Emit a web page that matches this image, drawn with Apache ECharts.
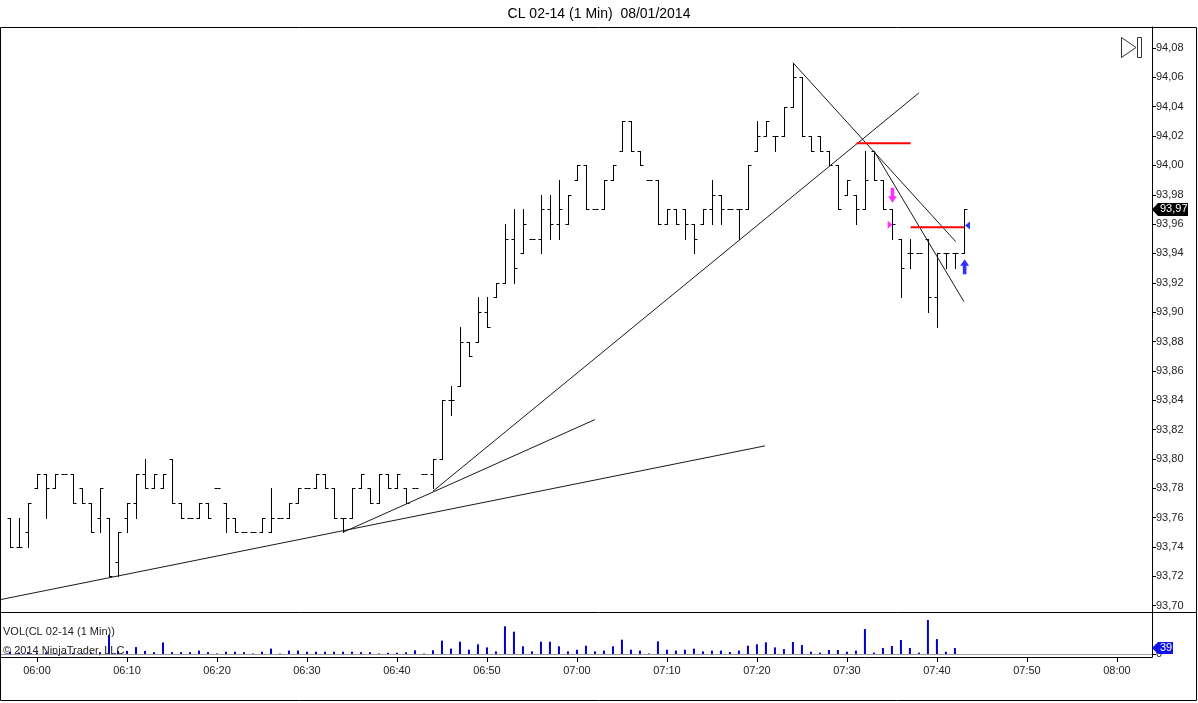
<!DOCTYPE html>
<html><head><meta charset="utf-8">
<script src="https://cdn.jsdelivr.net/npm/echarts@6/dist/echarts.min.js"></script>
<style>html,body{margin:0;padding:0;background:#fff}#c{width:1198px;height:703px}</style>
</head><body><div id="c"></div>
<script>
// ---- data (minute bars, CL 02-14, 1 Min) ----
const times = ["05:57","05:58","05:59","06:00","06:01","06:02","06:03","06:04","06:05","06:06","06:07","06:08","06:09",
"06:10","06:11","06:12","06:13","06:14","06:15","06:16","06:17","06:18","06:19","06:20","06:21","06:22","06:23","06:24","06:25","06:26","06:27","06:28","06:29",
"06:30","06:31","06:32","06:33","06:34","06:35","06:36","06:37","06:38","06:39","06:40","06:41","06:42","06:43","06:44","06:45","06:46","06:47","06:48","06:49",
"06:50","06:51","06:52","06:53","06:54","06:55","06:56","06:57","06:58","06:59","07:00","07:01","07:02","07:03","07:04","07:05","07:06","07:07","07:08","07:09",
"07:10","07:11","07:12","07:13","07:14","07:15","07:16","07:17","07:18","07:19","07:20","07:21","07:22","07:23","07:24","07:25","07:26","07:27","07:28","07:29",
"07:30","07:31","07:32","07:33","07:34","07:35","07:36","07:37","07:38","07:39","07:40","07:41","07:42","07:43"];
const opens = [93.76,93.74,93.75,93.78,93.79,93.78,93.79,93.79,93.78,93.77,93.76,93.76,93.73,
93.76,93.77,93.79,93.78,93.78,93.80,93.77,93.76,93.76,93.77,93.78,93.77,93.76,93.75,93.75,93.75,93.75,93.76,93.76,93.77,
93.78,93.78,93.79,93.78,93.76,93.76,93.78,93.78,93.77,93.79,93.78,93.78,93.78,93.79,93.79,93.80,93.84,93.85,93.88,93.88,
93.90,93.91,93.92,93.95,93.94,93.95,93.95,93.97,93.96,93.96,93.99,94.00,93.97,93.97,93.99,94.01,94.03,94.01,93.99,93.99,
93.96,93.97,93.97,93.96,93.96,93.97,93.98,93.97,93.97,93.97,94.01,94.02,94.02,94.02,94.04,94.06,94.02,94.02,94.01,94.00,
93.98,93.98,93.97,94.01,93.99,93.97,93.95,93.94,93.94,93.95,93.91,93.94,93.94,93.94];
const highs = [93.76,93.76,93.77,93.79,93.79,93.79,93.79,93.79,93.78,93.77,93.78,93.76,93.75,
93.77,93.79,93.80,93.79,93.79,93.80,93.77,93.76,93.77,93.77,93.78,93.77,93.76,93.75,93.75,93.76,93.78,93.76,93.77,93.78,
93.78,93.79,93.79,93.78,93.76,93.78,93.79,93.78,93.79,93.79,93.79,93.78,93.78,93.79,93.80,93.84,93.85,93.89,93.88,93.91,
93.91,93.92,93.96,93.97,93.97,93.95,93.98,93.98,93.99,93.98,94.00,94.00,93.97,93.99,94.00,94.03,94.03,94.01,93.99,93.99,
93.97,93.97,93.97,93.96,93.97,93.99,93.98,93.97,93.97,94.00,94.03,94.03,94.02,94.04,94.07,94.06,94.02,94.02,94.01,94.00,
93.99,93.98,94.01,94.01,93.99,93.97,93.95,93.95,93.94,93.95,93.94,93.94,93.94,93.97];
const lows = [93.74,93.74,93.74,93.78,93.76,93.78,93.79,93.77,93.77,93.75,93.75,93.72,93.72,
93.75,93.76,93.78,93.78,93.78,93.77,93.76,93.76,93.76,93.76,93.78,93.75,93.75,93.75,93.75,93.75,93.75,93.76,93.76,93.77,
93.78,93.78,93.78,93.76,93.75,93.76,93.78,93.77,93.77,93.78,93.78,93.77,93.78,93.79,93.78,93.80,93.83,93.85,93.87,93.88,
93.89,93.91,93.92,93.92,93.94,93.95,93.94,93.95,93.95,93.96,93.99,93.97,93.97,93.97,93.99,94.01,94.01,94.00,93.99,93.96,
93.96,93.96,93.95,93.94,93.96,93.96,93.96,93.97,93.95,93.97,94.01,94.02,94.01,94.02,94.04,94.02,94.01,94.01,94.00,93.97,
93.98,93.96,93.97,93.99,93.97,93.95,93.91,93.93,93.94,93.90,93.89,93.93,93.93,93.94];
const closes = [93.74,93.74,93.77,93.79,93.78,93.79,93.79,93.77,93.77,93.75,93.78,93.72,93.75,
93.77,93.79,93.78,93.79,93.79,93.77,93.76,93.76,93.77,93.76,93.78,93.76,93.75,93.75,93.75,93.76,93.76,93.76,93.77,93.78,
93.78,93.79,93.78,93.76,93.76,93.78,93.79,93.77,93.79,93.78,93.79,93.77,93.78,93.79,93.80,93.84,93.84,93.88,93.87,93.90,
93.89,93.92,93.95,93.93,93.96,93.95,93.97,93.96,93.97,93.98,94.00,93.97,93.97,93.99,94.00,94.03,94.01,94.00,93.99,93.96,
93.97,93.96,93.96,93.95,93.97,93.98,93.97,93.97,93.97,94.00,94.02,94.03,94.02,94.04,94.06,94.02,94.01,94.01,94.00,93.97,
93.99,93.97,93.99,93.99,93.97,93.96,93.93,93.94,93.94,93.91,93.94,93.94,93.94,93.97];
const volumes = [15,10,12,8,10,6,5,8,6,10,12,125,20,
20,45,20,12,75,12,12,12,22,12,3,15,15,12,3,15,35,3,22,22,
15,15,15,15,15,15,12,12,3,8,8,11,24,3,24,87,35,80,28,63,
43,17,180,145,50,17,80,80,50,17,28,54,17,22,50,93,28,22,3,82,
28,22,28,35,17,22,22,13,22,54,63,76,43,32,78,58,15,9,26,26,
15,22,162,9,39,52,91,39,9,221,97,15,39,null];
const priceTicks = [93.70,93.72,93.74,93.76,93.78,93.80,93.82,93.84,93.86,93.88,93.90,93.92,93.94,93.96,93.98,94.00,94.02,94.04,94.06,94.08];
const timeTicks = ["06:00","06:10","06:20","06:30","06:40","06:50","07:00","07:10","07:20","07:30","07:40","07:50","08:00"];
// drawn objects: [time, price] endpoints
const trendLong   = [["05:55.9",93.7041],["07:20.9",93.8089]];
const trendMedium = [["06:34",93.75],["07:02",93.8268]];
const trendSteep  = [["06:44",93.778],["07:38",94.0494]];
const trendDownA  = [["07:24",94.07],["07:42.1",93.948]];
const trendDownB  = [["07:33",94.01],["07:43",93.9072]];
const redLine1    = [["07:31.07",94.0151],["07:37.08",94.0151]];
const redLine2    = [["07:37.08",93.9579],["07:43",93.9579]];
const magentaDown = ["07:35.06",93.9796];
const magentaTri  = ["07:34.8",93.9595];
const blueTri     = ["07:43.4",93.959];
const blueUp      = ["07:43.08",93.931];

// ---- helpers ----
function toMin(t){ const p=t.split(':'); return (+p[0])*60 + parseFloat(p[1]) - 360; } // minutes since 06:00
function fmtTime(m){ const t=Math.round(m)+360; const h=Math.floor(t/60), mm=t%60; return (h<10?'0':'')+h+':'+(mm<10?'0':'')+mm; }
function fmtPrice(v){ return v.toFixed(2).replace('.',','); }
const pts = arr => arr.map(p=>[toMin(p[0]),p[1]]);

const FONT = '"Liberation Sans", Arial, sans-serif';
const ohlcData = times.map((t,i)=>[toMin(t),opens[i],highs[i],lows[i],closes[i]]);
const volData = times.map((t,i)=>[toMin(t),volumes[i]]);
const X_MIN = -4.0, X_MAX = 123.9;

const chart = echarts.init(document.getElementById('c'), null, {renderer:'canvas'});

function lineSeries(data, color, width){
  return {type:'line', xAxisIndex:0, yAxisIndex:0, data:pts(data), symbol:'none', silent:true,
    lineStyle:{color:color, width:width}, z:3, animation:false};
}
function markSeries(p, path, size, color){
  return {type:'scatter', xAxisIndex:0, yAxisIndex:0, data:[[toMin(p[0]),p[1]]], symbol:path,
    symbolSize:size, itemStyle:{color:color}, silent:true, z:5, animation:false};
}

chart.setOption({
  animation:false,
  backgroundColor:'#fff',
  title:{text:'CL 02-14 (1 Min)  08/01/2014', left:'center', top:2,
    textStyle:{fontSize:14, fontWeight:'normal', color:'#000', fontFamily:FONT}},
  grid:[
    {left:1, right:46, top:27, height:585},
    {left:1, right:46, top:613, height:44}
  ],
  xAxis:[
    {type:'value', gridIndex:0, min:X_MIN, max:X_MAX, show:false, axisLine:{onZero:false}},
    {type:'value', gridIndex:1, min:X_MIN, max:X_MAX, position:'bottom',
      axisLine:{show:true, onZero:false, lineStyle:{color:'#000', width:1}},
      axisTick:{show:true, inside:false, length:5, lineStyle:{color:'#000'}, customValues:timeTicks.map(toMin)},
      axisLabel:{show:true, margin:8, fontSize:11, color:'#222', fontFamily:FONT,
        customValues:timeTicks.map(toMin), formatter:v=>fmtTime(v)},
      splitLine:{show:false}}
  ],
  yAxis:[
    {type:'value', gridIndex:0, position:'right', min:93.6957, max:94.0943,
      axisLine:{show:true, onZero:false, lineStyle:{color:'#000'}},
      axisTick:{show:true, inside:false, length:4, lineStyle:{color:'#000'}, customValues:priceTicks},
      axisLabel:{show:true, margin:4, fontSize:11, color:'#222', fontFamily:FONT,
        customValues:priceTicks, formatter:v=>fmtPrice(v)},
      splitLine:{show:false}},
    {type:'value', gridIndex:1, position:'right', min:-19.5, max:266.5,
      axisLine:{show:true, onZero:false, lineStyle:{color:'#000'}},
      axisTick:{show:true, inside:false, length:4, lineStyle:{color:'#000'}, customValues:[0]},
      axisLabel:{show:true, margin:4, fontSize:11, color:'#222', fontFamily:FONT, customValues:[0]},
      splitLine:{show:false}}
  ],
  series:[
    {type:'custom', xAxisIndex:0, yAxisIndex:0, data:ohlcData, encode:{x:0, y:[1,2,3,4]}, z:2, silent:true,
      renderItem:function(params, api){
        const x=api.value(0);
        const pH=api.coord([x,api.value(2)]), pL=api.coord([x,api.value(3)]);
        const pO=api.coord([x,api.value(1)]), pC=api.coord([x,api.value(4)]);
        const cx=Math.round(pH[0])+0.5;
        let yH=Math.round(pH[1]), yL=Math.round(pL[1]);
        const yO=Math.round(pO[1])+0.5, yC=Math.round(pC[1])+0.5;
        const st={stroke:'#000', lineWidth:1};
        const ch=[
          {type:'line', shape:{x1:cx-3, y1:yO, x2:cx, y2:yO}, style:st},
          {type:'line', shape:{x1:cx, y1:yC, x2:cx+3, y2:yC}, style:st}
        ];
        if (yL-yH>=1) ch.push({type:'line', shape:{x1:cx, y1:yH, x2:cx, y2:yL+1}, style:st});
        return {type:'group', children:ch};
      }},
    {type:'bar', xAxisIndex:1, yAxisIndex:1, data:volData, barWidth:2, itemStyle:{color:'#0000c8'}, silent:true, z:2,
      markLine:{silent:true, symbol:'none', label:{show:false}, lineStyle:{color:'#a0a0a0', width:1, type:'solid'},
        data:[{yAxis:0}]}},
    lineSeries(trendLong,'#1a1a1a',1),
    lineSeries(trendMedium,'#1a1a1a',1),
    lineSeries(trendSteep,'#1a1a1a',1),
    lineSeries(trendDownA,'#1a1a1a',1),
    lineSeries(trendDownB,'#1a1a1a',1),
    lineSeries(redLine1,'#ff0000',2),
    lineSeries(redLine2,'#ff0000',2),
    markSeries(magentaDown,'path://M3,0 L7,0 L7,9 L10,9 L5,16 L0,9 L3,9 Z',[9,15],'#ff00ff'),
    markSeries(magentaTri,'path://M0,0 L10,8 L0,16 Z',[5,8],'#ff00ff'),
    markSeries(blueTri,'path://M10,0 L0,8 L10,16 Z',[5,8],'#0000ff'),
    markSeries(blueUp,'path://M5,0 L10,7 L7,7 L7,16 L3,16 L3,7 L0,7 Z',[9,15],'#0000ff')
  ]
});

// value tags on the right axis, positioned through the axes
const lastClose = closes[closes.length-1];
let lastVol = null; for (let i=volumes.length-1;i>=0;i--){ if(volumes[i]!=null){ lastVol=volumes[i]; break; } }
const yP = chart.convertToPixel({yAxisIndex:0}, lastClose);
const yV = chart.convertToPixel({yAxisIndex:1}, lastVol);
const AX = 1152;
chart.setOption({
  graphic:[
    {type:'rect', shape:{x:0.5, y:27.5, width:1196, height:673}, style:{fill:null, stroke:'#000', lineWidth:1}, z:10, silent:true},
    {type:'line', shape:{x1:0, y1:612.5, x2:1197, y2:612.5}, style:{stroke:'#000', lineWidth:1}, z:10, silent:true},
    {type:'polygon', shape:{points:[[1121.5,37.5],[1136,47.5],[1121.5,57.5]]}, style:{fill:null, stroke:'#333', lineWidth:1}, z:10, silent:true},
    {type:'rect', shape:{x:1137.5, y:37.5, width:4, height:20}, style:{fill:null, stroke:'#333', lineWidth:1}, z:10, silent:true},
    {type:'text', x:3, y:632, style:{text:'VOL(CL 02-14 (1 Min))', fontSize:11, fontFamily:FONT, fill:'#222', verticalAlign:'middle'}, z:10, silent:true},
    {type:'text', x:3, y:651, style:{text:'© 2014 NinjaTrader, LLC', fontSize:11, fontFamily:FONT, fill:'#222', verticalAlign:'middle'}, z:10, silent:true},
    {type:'polygon', shape:{points:[[AX,yP],[AX+6,yP-6.5],[AX+36,yP-6.5],[AX+36,yP+6.5],[AX+6,yP+6.5]]}, style:{fill:'#000'}, z:11, silent:true},
    {type:'text', x:AX+8, y:yP, style:{text:fmtPrice(lastClose), fontSize:11, fontFamily:FONT, fill:'#fff', verticalAlign:'middle'}, z:12, silent:true},
    {type:'polygon', shape:{points:[[AX,yV],[AX+6,yV-6],[AX+21,yV-6],[AX+21,yV+6],[AX+6,yV+6]]}, style:{fill:'#1010f0'}, z:11, silent:true},
    {type:'text', x:AX+8, y:yV, style:{text:String(lastVol), fontSize:11, fontFamily:FONT, fill:'#fff', verticalAlign:'middle'}, z:12, silent:true}
  ]
});
</script>
</body></html>
